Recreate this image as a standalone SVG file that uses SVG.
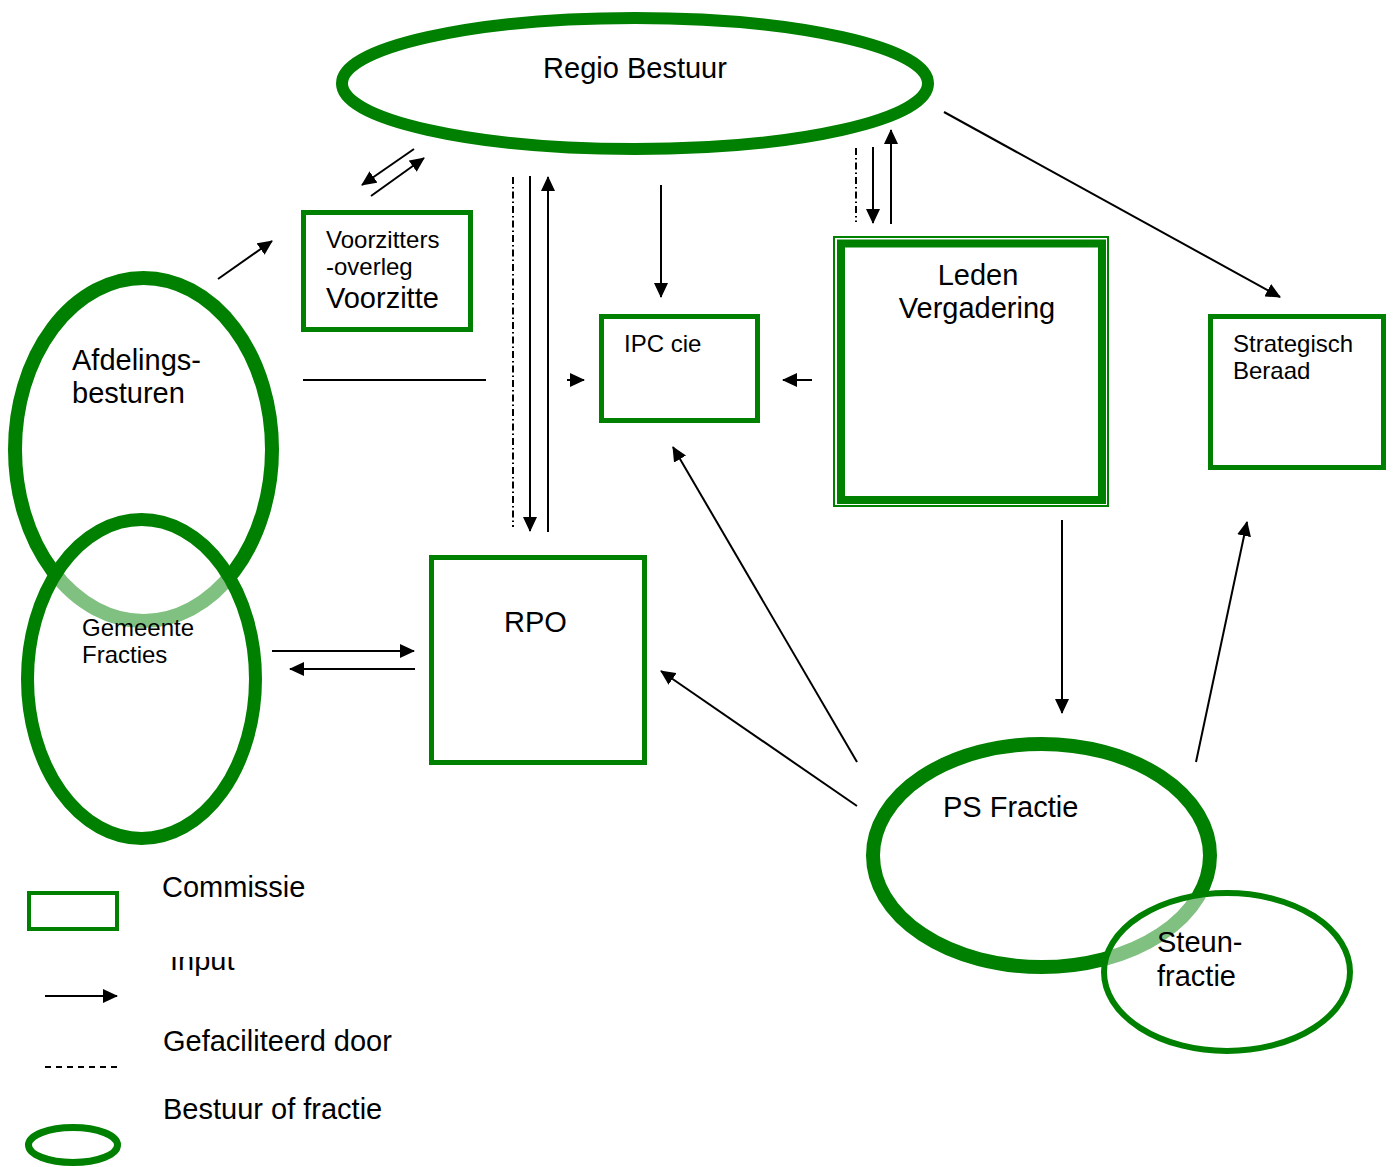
<svg xmlns="http://www.w3.org/2000/svg" width="1394" height="1167" viewBox="0 0 1394 1167">
<style>
text{font-family:"Liberation Sans",Arial,sans-serif;fill:#000}
.l{font-size:29px}
.s{font-size:24px}
.box{fill:#fff;stroke:#008000;stroke-width:5}
.ell{stroke:#008000}
.c{stroke:#000;stroke-width:2;fill:none}
.dd{stroke:#000;stroke-width:2;fill:none;stroke-dasharray:7 3 1.5 3}
</style>
<defs>
<marker id="ah" markerUnits="userSpaceOnUse" markerWidth="15" markerHeight="14" refX="14" refY="7" orient="auto">
<path d="M0,0 L15,7 L0,14 Z" fill="#000"/>
</marker>
<clipPath id="inputclip"><rect x="150" y="957" width="120" height="40"/></clipPath>
</defs>
<rect width="1394" height="1167" fill="#fff"/>

<g id="connectors">
<line class="c" x1="414" y1="149" x2="362" y2="185" marker-end="url(#ah)"/>
<line class="c" x1="371" y1="196" x2="424" y2="158" marker-end="url(#ah)"/>
<line class="c" x1="218" y1="279" x2="272" y2="241" marker-end="url(#ah)"/>
<line class="c" x1="303" y1="380" x2="486" y2="380"/>
<line class="c" x1="567" y1="380" x2="584" y2="380" marker-end="url(#ah)"/>
<line class="c" x1="812" y1="380" x2="783" y2="380" marker-end="url(#ah)"/>
<line class="dd" x1="513" y1="177" x2="513" y2="527"/>
<line class="c" x1="530" y1="176" x2="530" y2="531" marker-end="url(#ah)"/>
<line class="c" x1="548" y1="532" x2="548" y2="177" marker-end="url(#ah)"/>
<line class="c" x1="661" y1="185" x2="661" y2="297" marker-end="url(#ah)"/>
<line class="dd" x1="856" y1="148" x2="856" y2="222"/>
<line class="c" x1="873" y1="147" x2="873" y2="223" marker-end="url(#ah)"/>
<line class="c" x1="891" y1="224" x2="891" y2="130" marker-end="url(#ah)"/>
<line class="c" x1="944" y1="112" x2="1280" y2="297" marker-end="url(#ah)"/>
<line class="c" x1="1062" y1="520" x2="1062" y2="713" marker-end="url(#ah)"/>
<line class="c" x1="1196" y1="762" x2="1247" y2="522" marker-end="url(#ah)"/>
<line class="c" x1="857" y1="762" x2="673" y2="447" marker-end="url(#ah)"/>
<line class="c" x1="857" y1="806" x2="661" y2="671" marker-end="url(#ah)"/>
<line class="c" x1="272" y1="651" x2="414" y2="651" marker-end="url(#ah)"/>
<line class="c" x1="415" y1="669" x2="290" y2="669" marker-end="url(#ah)"/>
</g>

<g id="regio-bestuur">
<ellipse class="ell" cx="635" cy="83.5" rx="293" ry="65.5" fill="none" stroke-width="12"/>
<text class="l" x="635" y="78" text-anchor="middle">Regio Bestuur</text>
</g>

<g id="voorzitters-overleg">
<rect class="box" x="303.5" y="212.5" width="167" height="117"/>
<text class="s" x="326" y="248">Voorzitters</text>
<text class="s" x="326" y="275">-overleg</text>
<text class="l" x="326" y="308">Voorzitte</text>
</g>

<g id="afdelingsbesturen">
<ellipse class="ell" cx="143.5" cy="449.5" rx="128.5" ry="171.5" fill="none" stroke-width="14"/>
<text class="l" x="72" y="370">Afdelings-</text>
<text class="l" x="72" y="403">besturen</text>
</g>

<g id="gemeente-fracties">
<ellipse class="ell" cx="141.5" cy="679" rx="114" ry="159.5" fill="#fff" fill-opacity="0.5" stroke-width="13"/>
<text class="s" x="82" y="636">Gemeente</text>
<text class="s" x="82" y="663">Fracties</text>
</g>

<g id="ipc-cie">
<rect class="box" x="601.5" y="316.5" width="156" height="104"/>
<text class="s" x="624" y="352">IPC cie</text>
</g>

<g id="leden-vergadering">
<rect x="834" y="237" width="274" height="269" fill="#fff" stroke="#008000" stroke-width="2"/>
<rect x="841" y="243.5" width="261" height="256.5" fill="#fff" stroke="#008000" stroke-width="8"/>
<text class="l" x="978" y="285" text-anchor="middle">Leden</text>
<text class="l" x="977" y="318" text-anchor="middle">Vergadering</text>
</g>

<g id="strategisch-beraad">
<rect class="box" x="1210.5" y="316.5" width="173" height="151"/>
<text class="s" x="1233" y="352">Strategisch</text>
<text class="s" x="1233" y="379">Beraad</text>
</g>

<g id="rpo">
<rect class="box" x="431.5" y="557.5" width="213" height="205"/>
<text class="l" x="504" y="632">RPO</text>
</g>

<g id="ps-fractie">
<ellipse class="ell" cx="1041.5" cy="855.5" rx="168.5" ry="111.5" fill="none" stroke-width="14"/>
<text class="l" x="943" y="817">PS Fractie</text>
</g>

<g id="steunfractie">
<ellipse class="ell" cx="1227" cy="972" rx="123" ry="79" fill="#fff" fill-opacity="0.5" stroke-width="6"/>
<text class="l" x="1157" y="952">Steun-</text>
<text class="l" x="1157" y="986">fractie</text>
</g>

<g id="legend">
<rect x="29" y="893" width="88" height="36" fill="#fff" stroke="#008000" stroke-width="4"/>
<text class="l" x="162" y="897">Commissie</text>
<text class="l" x="170" y="970" clip-path="url(#inputclip)">Input</text>
<line class="c" x1="45" y1="996" x2="117" y2="996" marker-end="url(#ah)"/>
<text class="l" x="163" y="1051">Gefaciliteerd door</text>
<line x1="45" y1="1067" x2="118" y2="1067" stroke="#000" stroke-width="2" stroke-dasharray="6 5"/>
<text class="l" x="163" y="1119">Bestuur of fractie</text>
<ellipse cx="73" cy="1145" rx="44.5" ry="17.5" fill="none" stroke="#008000" stroke-width="7"/>
</g>
</svg>
